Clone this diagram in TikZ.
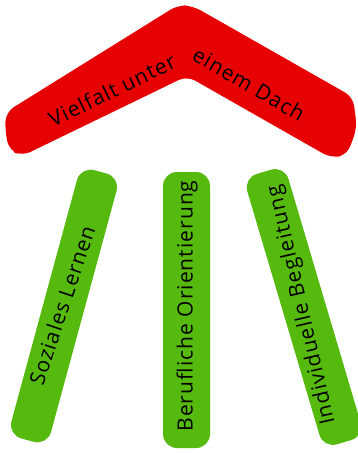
\documentclass[tikz,border=0pt]{standalone}
\usepackage{fontspec}
\setmainfont{Open Sans}[LetterSpace=5]
\definecolor{roofred}{RGB}{230,2,2}
\definecolor{pillargreen}{RGB}{86,186,14}
\begin{document}
\begin{tikzpicture}[x=1pt,y=-1pt,
  pillar/.style={fill=pillargreen, rounded corners=14pt, inner sep=0pt},
  label/.style={font=\fontsize{21}{24}\selectfont, text=black, inner sep=0pt}]
\useasboundingbox (0,0) rectangle (358,453);
% roof
\fill[roofred, rounded corners=9pt] (6,112) -- (178,5) -- (193,6) -- (353,97) -- (357,128) -- (347,155) -- (331,158) -- (187,76) -- (22,156) -- (9,150) -- (5,130) -- cycle;
\node[label, rotate=26] (roofL) at (112,90) {Vielfalt unter};
\node[label, rotate=-30] (roofR) at (249,84) {einem Dach};
% pillars
\node[pillar, rotate=74.8, minimum width=278pt, minimum height=41pt] (p1) at (64,306) {};
\node[pillar, rotate=90, minimum width=276pt, minimum height=47pt] (p2) at (186.5,310) {};
\node[pillar, rotate=106.5, minimum width=282pt, minimum height=43pt] (p3) at (304,307) {};
\node[label, rotate=71.5] (t1) at (62,305) {Soziales Lernen};
\node[label, rotate=90] (t2) at (187,306) {Berufliche Orientierung};
\node[label, rotate=103] (t3) at (302,305) {Individuelle Begleitung};
\end{tikzpicture}
\end{document}
